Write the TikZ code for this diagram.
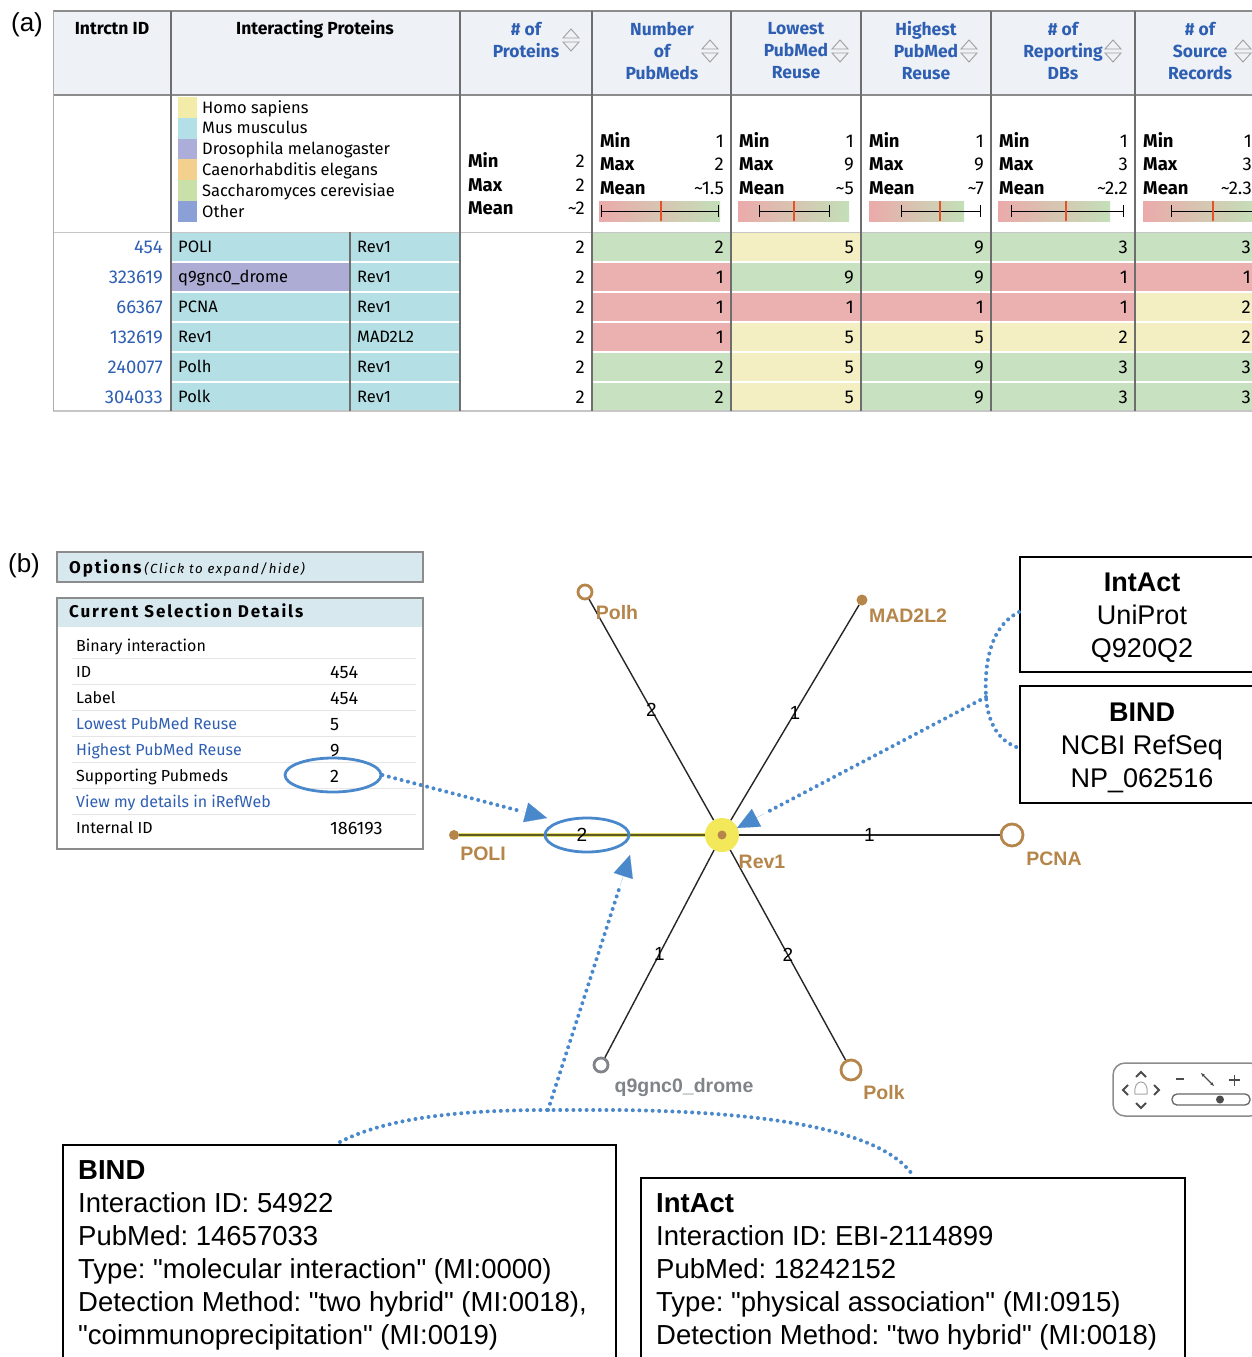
\documentclass[tikz,border=0pt]{standalone}
\usepackage{fontspec}
\setmainfont{Liberation Sans}[Ligatures=TeXOff]
\newfontfamily\ui{Fira Sans}
\newfontfamily\uisp{Fira Sans}[LetterSpace=11]
\usetikzlibrary{arrows.meta,shapes.geometric,calc}
\newcommand\myfs[1]{\fontsize{#1}{#1}\selectfont}
\frenchspacing
\definecolor{hdrbg}{HTML}{EEF1F5}
\definecolor{gridc}{HTML}{8C8C8C}
\definecolor{gridd}{HTML}{6E6E6E}
\definecolor{linkb}{HTML}{2F5FB3}
\definecolor{cG}{HTML}{C8E1C0}
\definecolor{cR}{HTML}{EBB0B0}
\definecolor{cY}{HTML}{F3EFC3}
\definecolor{cCy}{HTML}{B3DFE5}
\definecolor{cLav}{HTML}{ACACD4}
\definecolor{lgHomo}{HTML}{F3EBA8}
\definecolor{lgMus}{HTML}{B3E0E7}
\definecolor{lgDro}{HTML}{ADADD9}
\definecolor{lgCae}{HTML}{F4D08E}
\definecolor{lgSac}{HTML}{C9E1A9}
\definecolor{lgOth}{HTML}{8AA0D6}
\definecolor{barR}{HTML}{EBAAAA}
\definecolor{barY}{HTML}{F4EDB8}
\definecolor{barG}{HTML}{C3DFB8}
\definecolor{meanc}{HTML}{E8502A}
\definecolor{panelbg}{HTML}{D8E8EF}
\definecolor{nodebr}{HTML}{B5854A}
\definecolor{edgey}{HTML}{E0DA6A}
\definecolor{edgeo}{HTML}{5E5A20}
\definecolor{revy}{HTML}{F2E85A}
\definecolor{dotb}{HTML}{4A88CC}
\definecolor{greyn}{HTML}{808488}
\definecolor{sorti}{HTML}{A0A0A0}
\begin{document}
\begin{tikzpicture}[x=1pt,y=-1pt,
  tb/.style={font=\ui\myfs{16.5}, inner sep=0},
  tbn/.style={font=\ui\myfs{18.5}, inner sep=0},
  tbb/.style={font=\ui\bfseries\myfs{18.5}, inner sep=0},
  hdr/.style={font=\ui\bfseries\fontsize{17.5}{22}\selectfont, align=center, inner sep=0, text=linkb},
  pan/.style={font=\ui\myfs{16}, inner sep=0, anchor=base west},
  panv/.style={font=\ui\myfs{18}, inner sep=0, anchor=base west},
  sorticon/.style={draw=sorti, line width=0.9},
  dotline/.style={draw=dotb, line width=4, dash pattern=on 0pt off 6.6pt, line cap=round},
  tipb/.style={-{Triangle[length=22pt,width=20pt]}, dotb},
  edge/.style={draw=black!85, line width=1.4},
  elab/.style={font=\myfs{19}, inner sep=0},
  openn/.style={circle, draw=nodebr, line width=2.8, fill=white, inner sep=0},
  dotn/.style={circle, fill=nodebr, inner sep=0},
  glab/.style={font=\bfseries\myfs{19.5}, text=nodebr, inner sep=0, anchor=base},
  bigbox/.style={draw=black, line width=2.4, fill=white, inner sep=0},
  bigtxt/.style={font=\myfs{27.5}, inner sep=0, anchor=base west},
  midtxt/.style={font=\myfs{27}, inner sep=0, anchor=base}
]
\useasboundingbox (0,0) rectangle (1252,1357);
\clip (0,0) rectangle (1252,1357);
\fill[white] (0,0) rectangle (1252,1357);

% ---------------- (a) table ----------------
\node[font=\myfs{26}, inner sep=0] (labA) at (27,25) {(a)};
\fill[hdrbg] (53,11) rectangle (1300,95);

% legend
\foreach \i/\c/\t in {0/lgHomo/Homo sapiens,1/lgMus/Mus musculus,2/lgDro/Drosophila melanogaster,3/lgCae/Caenorhabditis elegans,4/lgSac/Saccharomyces cerevisiae,5/lgOth/Other}{
  \fill[\c] (178,97+20.8*\i) rectangle (197,117.8+20.8*\i);
  \node[tb, anchor=base west] (lg\i) at (202,113+20.8*\i) {\t};
}

% protein rows
\foreach \r/\id/\pa/\pb/\ca in {0/454/POLI/Rev1/cCy,1/323619/q9gnc0\_drome/Rev1/cLav,2/66367/PCNA/Rev1/cCy,3/132619/Rev1/MAD2L2/cCy,4/240077/Polh/Rev1/cCy,5/304033/Polk/Rev1/cCy}{
  \fill[\ca] (171,232+30*\r) rectangle (350,262+30*\r);
  \fill[cCy] (350,232+30*\r) rectangle (460,262+30*\r);
  \node[tbn, anchor=base east, text=linkb] (id\r) at (163,253+30*\r) {\id};
  \node[tb, anchor=base west] (pa\r) at (178,252+30*\r) {\pa};
  \node[tb, anchor=base west] (pb\r) at (357,252+30*\r) {\pb};
  \node[tbn, anchor=base east] (np\r) at (585,253+30*\r) {2};
}
% numeric rows
\foreach \r/\va/\vb/\vc/\vd/\ve/\ka/\kb/\kc/\kd/\ke in {
0/2/5/9/3/3/cG/cY/cG/cG/cG,
1/1/9/9/1/1/cR/cG/cG/cR/cR,
2/1/1/1/1/2/cR/cR/cR/cR/cY,
3/1/5/5/2/2/cR/cY/cY/cY/cY,
4/2/5/9/3/3/cG/cY/cG/cG/cG,
5/2/5/9/3/3/cG/cY/cG/cG/cG}{
  \fill[\ka] (592,232+30*\r) rectangle (731,262+30*\r);
  \fill[\kb] (731,232+30*\r) rectangle (861,262+30*\r);
  \fill[\kc] (861,232+30*\r) rectangle (991,262+30*\r);
  \fill[\kd] (991,232+30*\r) rectangle (1135,262+30*\r);
  \fill[\ke] (1135,232+30*\r) rectangle (1300,262+30*\r);
  \node[tbn, anchor=base east] (va\r) at (724,253+30*\r) {\va};
  \node[tbn, anchor=base east] (vb\r) at (854,253+30*\r) {\vb};
  \node[tbn, anchor=base east] (vc\r) at (984,253+30*\r) {\vc};
  \node[tbn, anchor=base east] (vd\r) at (1128,253+30*\r) {\vd};
  \node[tbn, anchor=base east] (ve\r) at (1251,253+30*\r) {\ve};
}
% row separators
\foreach \r in {1,...,5}{
  \draw[white, line width=1.6] (53,232+30*\r) -- (1300,232+30*\r);
}
% grid
\draw[gridc, line width=1.2] (53,11) -- (1300,11);
\draw[gridc, line width=1.2] (53,95) -- (1300,95);
\draw[gridc!50, line width=1] (53,232) -- (1300,232);
\draw[gridc!50, line width=1.2] (53,411) -- (1300,411);
\draw[gridc!70, line width=1] (53,11) -- (53,411);
\foreach \x in {171,460,592,731,861,991,1135}{
  \draw[gridd, line width=1.5] (\x,11) -- (\x,411);
}
\draw[gridd, line width=1.5] (350,232) -- (350,411);

% header texts
\node[hdr, text=black] (hId) at (112,29) {Intrctn ID};
\node[hdr, text=black] (hIP) at (315,29) {Interacting Proteins};
\node[hdr] (hNP) at (526,40) {\# of\\Proteins};
\node[hdr] (hNum) at (662,51) {Number\\of\\PubMeds};
\node[hdr] (hLow) at (796,51) {Lowest\\PubMed\\Reuse};
\node[hdr] (hHigh) at (926,51) {Highest\\PubMed\\Reuse};
\node[hdr] (hRep) at (1063,51) {\# of\\Reporting\\DBs};
\node[hdr] (hSrc) at (1200,51) {\# of\\Source\\Records};
\foreach \x/\y in {571/40,710/51,840/51,969/51,1113/51,1243/51}{
  \draw[sorticon] (\x-8,\y-2) -- (\x,\y-11) -- (\x+8,\y-2) -- cycle;
  \draw[sorticon] (\x-8,\y+2) -- (\x,\y+11) -- (\x+8,\y+2) -- cycle;
}

% filter stats
\node[tbb, anchor=base west] (pmin) at (468,167) {Min};
\node[tbb, anchor=base west] (pmax) at (468,191) {Max};
\node[tbb, anchor=base west] (pmean) at (468,214) {Mean};
\node[tbn, anchor=base east] (pminv) at (585,167) {2};
\node[tbn, anchor=base east] (pmaxv) at (585,191) {2};
\node[tbn, anchor=base east] (pmeanv) at (585,214) {\textasciitilde2};
\foreach \k/\l/\rr/\mn/\mx/\me/\bl/\br/\ll/\lr/\mm in {
 a/592/731/1/2/1.5/599/720/601/718/661,
 b/731/861/1/9/5/738/849/759/829/794,
 c/861/991/1/9/7/869/964/901/980/940,
 d/991/1135/1/3/2.2/998/1110/1011/1123/1066,
 e/1135/1259/1/3/2.3/1143/1256/1171/1290/1213}{
  \node[tbb, anchor=base west] (smin\k) at (\l+8,147) {Min};
  \node[tbb, anchor=base west] (smax\k) at (\l+8,170) {Max};
  \node[tbb, anchor=base west] (smean\k) at (\l+8,194) {Mean};
  \node[tbn, anchor=base east] (sminv\k) at (\rr-7,147) {\mn};
  \node[tbn, anchor=base east] (smaxv\k) at (\rr-7,170) {\mx};
  \node[tbn, anchor=base east] (smeanv\k) at (\rr-7,194) {\textasciitilde\me};
  \shade[left color=barR, middle color=barY, right color=barG] (\bl,201) rectangle (\br,221);
  \draw[black, line width=0.9] (\ll,211) -- (\lr,211);
  \draw[black, line width=0.9] (\ll,205) -- (\ll,217);
  \draw[black, line width=0.9] (\lr,205) -- (\lr,217);
  \draw[meanc, line width=1.6] (\mm,201) -- (\mm,221);
}

% ---------------- (b) ----------------
\node[font=\myfs{26}, inner sep=0] (labB) at (24,566) {(b)};
\node[draw=gridc, line width=1.5, fill=panelbg, minimum width=366, minimum height=30, inner sep=0] (optbox) at (240,567) {};
\node[inner sep=0, anchor=base west] (opttxt) at (69,573) {{\uisp\bfseries\myfs{17}Options} {\uisp\itshape\myfs{13.3}(Click to expand/hide)}};
\node[draw=gridc, line width=1.8, minimum width=366, minimum height=251, inner sep=0] (detbox) at (240,723.5) {};
\fill[panelbg] (58,599) rectangle (422,627);
\node[inner sep=0, anchor=base west, font=\uisp\bfseries\myfs{17}] (dethdr) at (69,617) {Current Selection Details};
\foreach \i in {0,...,6}{
  \draw[black!10, line width=1] (72,658+26*\i) -- (416,658+26*\i);
}
\foreach \i/\lab/\val/\col in {0/Binary interaction//black,1/ID/454/black,2/Label/454/black,3/Lowest PubMed Reuse/5/linkb,4/Highest PubMed Reuse/9/linkb,5/Supporting Pubmeds/2/black,6/View my details in iRefWeb//linkb,7/Internal ID/186193/black}{
  \node[pan, text=\col] (dl\i) at (76,651+26*\i) {\lab};
  \node[panv] (dv\i) at (330,652+26*\i) {\val};
}
\node[draw=dotb, ellipse, line width=2.8, minimum width=96, minimum height=34, inner sep=0] (ellSP) at (333,775) {};

% graph nodes
\node[circle, fill=revy, minimum size=34, inner sep=0] (rev1) at (722,835) {};
\fill[nodebr] (rev1.center) circle (4.5);
\node[dotn, minimum size=10] (poli) at (454,835) {};
\node[openn, minimum size=14] (polh) at (585,592) {};
\node[dotn, minimum size=11] (mad) at (862,600) {};
\node[openn, minimum size=22] (pcna) at (1012,835) {};
\node[openn, draw=greyn, minimum size=14] (q9) at (601,1065) {};
\node[openn, minimum size=20] (polk) at (851,1070) {};

\draw[edgey, line width=4] (rev1) -- (poli);
\draw[edgeo, line width=1.1] (rev1) -- node[elab, text=black] (e1) {2} (poli);
\draw[edge] (rev1) -- node[elab] (e2) {2} (polh);
\draw[edge] (rev1) -- node[elab] (e3) {1} (mad);
\draw[edge] (rev1) -- node[elab] (e4) {1} (pcna);
\draw[edge] (rev1) -- node[elab] (e5) {1} (q9);
\draw[edge] (rev1) -- node[elab] (e6) {2} (polk);

\node[glab] (lpoli) at (483,860) {POLI};
\node[glab] (lpolh) at (617,619) {Polh};
\node[glab] (lmad) at (908,622) {MAD2L2};
\node[glab] (lpcna) at (1054,865) {PCNA};
\node[glab] (lrev) at (762,868) {Rev1};
\node[glab, text=greyn] (lq9) at (684,1092) {q9gnc0\_drome};
\node[glab] (lpolk) at (884,1099) {Polk};

\node[draw=dotb, ellipse, line width=2.8, minimum width=84, minimum height=34, inner sep=0] (ellE) at (587,835) {};

% right boxes
\node[bigbox, minimum width=244, minimum height=115] (intactR) at (1142,614.5) {};
\node[midtxt, font=\bfseries\myfs{27}] (ir1) at (1142,591) {IntAct};
\node[midtxt] (ir2) at (1142,624) {UniProt};
\node[midtxt] (ir3) at (1142,657) {Q920Q2};
\node[bigbox, minimum width=244, minimum height=117] (bindR) at (1142,744.5) {};
\node[midtxt, font=\bfseries\myfs{27}] (br1) at (1142,721) {BIND};
\node[midtxt] (br2) at (1142,754) {NCBI RefSeq};
\node[midtxt] (br3) at (1142,787) {NP\_062516};

% bottom boxes
\node[bigbox, minimum width=553, minimum height=240, anchor=north west] (bindB) at (62,1144) {};
\node[bigtxt, font=\bfseries\myfs{27.5}] (bb0) at (78,1179) {BIND};
\foreach \i/\t in {1/Interaction ID: 54922,2/PubMed: 14657033,3/Type: "molecular interaction" (MI:0000),4/{Detection Method: "two hybrid" (MI:0018),},5/"coimmunoprecipitation" (MI:0019)}{
  \node[bigtxt] (bb\i) at (78,1179+33*\i) {\t};
}
\node[bigbox, minimum width=544, minimum height=220, anchor=north west] (intactB) at (640,1177) {};
\node[bigtxt, font=\bfseries\myfs{27.5}] (ib0) at (656,1212) {IntAct};
\foreach \i/\t in {1/Interaction ID: EBI-2114899,2/PubMed: 18242152,3/Type: "physical association" (MI:0915),4/Detection Method: "two hybrid" (MI:0018)}{
  \node[bigtxt] (ib\i) at (656,1212+33*\i) {\t};
}

% dotted connectors
\coordinate (tip1) at (547,818);
\coordinate (brj) at (986,697);
\coordinate (tip2) at (737,828);
\coordinate (j1) at (548,1110);
\coordinate (j2) at (620,1110);
\coordinate (tip3) at (630,855);
\coordinate (bindTop) at (340,1142);
\coordinate (intTop) at (912,1174);
\coordinate (brTop) at (1019,612);
\coordinate (brBot) at (1019,748);

\draw[dotline] (ellSP.east) -- ($(ellSP.east)!0.85!(tip1)$) coordinate (a1);
\draw[tipb, line width=0.1] (a1) -- (tip1);
\draw[dotline] (brTop) .. controls (992,625) and (984,660) .. (brj) .. controls (988,725) and (1000,742) .. (brBot);
\draw[dotline] (brj) -- ($(brj)!0.89!(tip2)$) coordinate (a2);
\draw[tipb, line width=0.1] (a2) -- (tip2);
\draw[dotline] (bindTop) .. controls (390,1116) and (470,1110) .. (j1) -- (j2) .. controls (770,1112) and (880,1130) .. (intTop);
\draw[dotline] (j1) -- ($(j1)!0.88!(tip3)$) coordinate (a3);
\draw[tipb, line width=0.1] (a3) -- (tip3);

% navigation widget
\draw[black!45, line width=1.5, rounded corners=12] (1113,1063) rectangle (1262,1116);
\draw[black!70, line width=2] (1136,1077) -- (1141,1072) -- (1146,1077);
\draw[black!70, line width=2] (1136,1103) -- (1141,1108) -- (1146,1103);
\draw[black!70, line width=2] (1128,1085) -- (1123,1090) -- (1128,1095);
\draw[black!70, line width=2] (1154,1085) -- (1159,1090) -- (1154,1095);
\draw[black!35, line width=1] (1135,1094) .. controls (1134,1086) and (1137,1082) .. (1141,1082) .. controls (1145,1082) and (1148,1086) .. (1147,1094) -- cycle;
\draw[black!70, line width=1.6] (1176,1079) -- (1184,1079);
\draw[black!70, line width=1.2, {Stealth[length=4pt]}-{Stealth[length=4pt]}] (1201,1073) -- (1214,1086);
\draw[black!70, line width=1.6] (1229,1080) -- (1240,1080) (1234.5,1074.5) -- (1234.5,1085.5);
\draw[black!60, line width=1.3, rounded corners=5] (1172,1094) rectangle (1250,1105);
\fill[black!70] (1220,1099.5) circle (4);
\end{tikzpicture}
\end{document}
